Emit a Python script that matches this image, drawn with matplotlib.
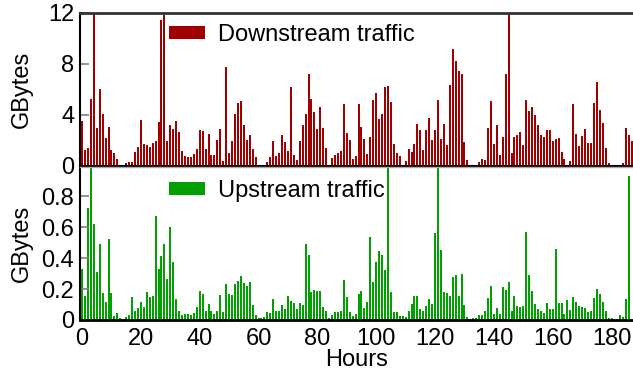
import matplotlib
matplotlib.use("Agg")
import matplotlib.pyplot as plt

hours = list(range(188))

downstream = [
    3.52, 1.25, 1.41, 5.24, 13.5, 2.97, 6.03, 4.07, 2.19, 3.05,
    1.25, 1.02, 0.55, 0.10, 0.00, 0.23, 0.31, 0.31, 1.10, 1.49,
    3.60, 1.72, 1.64, 1.49, 1.80, 1.96, 3.44, 11.43, 11.82, 1.96,
    3.21, 2.90, 3.52, 2.66, 1.17, 0.78, 0.70, 0.70, 0.94, 1.33,
    2.82, 2.74, 1.33, 2.50, 0.86, 0.86, 2.03, 2.90, 0.39, 7.75,
    1.02, 1.96, 4.07, 4.93, 5.09, 3.21, 2.03, 2.43, 1.33, 0.70,
    0.08, 0.08, 0.08, 0.31, 0.70, 1.96, 0.78, 1.02, 2.43, 1.88,
    1.17, 6.18, 0.86, 0.47, 1.96, 3.21, 4.07, 7.20, 5.24, 4.23,
    2.90, 4.62, 2.97, 1.41, 0.08, 0.63, 0.86, 1.02, 1.17, 4.85,
    2.58, 2.03, 0.55, 0.82, 4.85, 3.05, 2.11, 0.94, 2.27, 5.17,
    5.71, 3.68, 4.07, 6.18, 6.26, 5.01, 1.72, 1.02, 0.78, 0.08,
    0.39, 1.33, 1.10, 1.72, 3.29, 2.82, 1.25, 2.82, 3.76, 2.03,
    2.82, 5.17, 2.11, 3.29, 1.64, 6.34, 9.16, 8.22, 7.44, 7.20,
    1.88, 0.47, 0.00, 0.00, 0.08, 0.31, 0.55, 0.47, 2.97, 5.09,
    1.72, 3.21, 0.86, 2.27, 7.20, 12.8, 1.02, 2.27, 2.43, 2.66,
    1.64, 5.17, 4.30, 4.62, 3.99, 3.21, 2.43, 2.27, 2.82, 2.82,
    1.96, 2.11, 2.19, 1.10, 0.55, 0.00, 0.39, 4.85, 2.50, 1.57,
    2.35, 2.90, 1.80, 1.80, 4.93, 6.57, 4.38, 3.37, 1.41, 0.23,
    0.00, 0.00, 0.00, 0.00, 0.23, 2.97, 2.43, 1.96,
]

upstream = [
    0.329, 0.155, 0.723, 1.100, 0.619, 0.310, 0.490, 0.174, 0.116, 0.523,
    0.174, 0.026, 0.045, 0.013, 0.006, 0.019, 0.032, 0.148, 0.058, 0.077,
    0.116, 0.084, 0.181, 0.148, 0.155, 0.671, 0.329, 0.413, 0.490, 0.265,
    0.600, 0.374, 0.135, 0.058, 0.032, 0.039, 0.039, 0.032, 0.045, 0.084,
    0.187, 0.168, 0.058, 0.103, 0.058, 0.039, 0.058, 0.161, 0.052, 0.232,
    0.168, 0.161, 0.232, 0.252, 0.284, 0.239, 0.219, 0.245, 0.100, 0.032,
    0.013, 0.016, 0.019, 0.052, 0.045, 0.135, 0.058, 0.058, 0.097, 0.071,
    0.155, 0.123, 0.110, 0.071, 0.110, 0.097, 0.490, 0.419, 0.181, 0.194,
    0.187, 0.187, 0.084, 0.058, 0.013, 0.032, 0.052, 0.052, 0.058, 0.258,
    0.148, 0.052, 0.026, 0.039, 0.168, 0.187, 0.077, 0.116, 0.535, 0.245,
    0.374, 0.445, 0.419, 0.323, 1.200, 0.181, 0.052, 0.052, 0.026, 0.026,
    0.019, 0.058, 0.103, 0.155, 0.155, 0.071, 0.058, 0.090, 0.135, 0.103,
    0.561, 1.100, 0.452, 0.181, 0.174, 0.155, 0.277, 0.290, 0.155, 0.297,
    0.097, 0.019, 0.006, 0.013, 0.013, 0.032, 0.032, 0.058, 0.142, 0.219,
    0.039, 0.077, 0.039, 0.213, 0.194, 0.245, 0.058, 0.155, 0.090, 0.084,
    0.090, 0.568, 0.290, 0.187, 0.103, 0.071, 0.058, 0.045, 0.110, 0.071,
    0.071, 0.458, 0.110, 0.110, 0.039, 0.129, 0.065, 0.148, 0.116, 0.090,
    0.084, 0.077, 0.052, 0.058, 0.142, 0.200, 0.168, 0.116, 0.058, 0.013,
    0.013, 0.006, 0.006, 0.032, 0.019, 0.135, 0.929, 0.000,
]

series_labels = ["Downstream traffic", "Upstream traffic"]
down_ticks = [0, 4, 8, 12]
up_ticks = [0, 0.2, 0.4, 0.6, 0.8]
x_ticks = [0, 20, 40, 60, 80, 100, 120, 140, 160, 180]
y_label = "GBytes"
x_label = "Hours"

plt.rcParams['font.family'] = ['Liberation Sans', 'DejaVu Sans']
FS = 17

W, H = 633, 377
fig = plt.figure(figsize=(W / 100, H / 100), dpi=100)
left = 79.7 / W
width = 1.0 - left
ax1 = fig.add_axes([left, (H - 166.0) / H, width, (166.0 - 12.7) / H])
ax2 = fig.add_axes([left, (H - 320.0) / H, width, (320.0 - 166.7) / H])

red = '#a00000'
green = '#00a000'
ax1.bar(hours, downstream, width=0.68, color=red, linewidth=0, label=series_labels[0])
ax2.bar(hours, upstream, width=0.68, color=green, linewidth=0, label=series_labels[1])

xlim = (-0.8, 187.3)
ax1.set_xlim(*xlim)
ax2.set_xlim(*xlim)
ax1.set_ylim(0, 12)
ax2.set_ylim(0, 0.99)

ax1.set_yticks(down_ticks)
ax1.set_yticklabels([str(t) for t in down_ticks])
ax2.set_yticks(up_ticks)
ax2.set_yticklabels(["0", "0.2", "0.4", "0.6", "0.8"])
ax1.set_xticks([])
ax2.set_xticks(x_ticks)
ax2.set_xticklabels([str(t) for t in x_ticks])

for ax in (ax1, ax2):
    ax.tick_params(axis='y', direction='in', length=6.7, width=1.2, color='#808080',
                   labelsize=FS, pad=4)
    ax.tick_params(axis='x', length=0, labelsize=FS, pad=6)
    ax.spines['right'].set_visible(False)
    ax.spines['left'].set_color('black')
    ax.spines['left'].set_linewidth(1.5)
    ax.set_ylabel(y_label, fontsize=FS)
    ax.yaxis.set_label_coords(-0.085, 0.5)

ax1.spines['top'].set_color('#333333')
ax1.spines['top'].set_linewidth(2.0)
ax1.spines['bottom'].set_color('black')
ax1.spines['bottom'].set_linewidth(1.5)
ax2.spines['top'].set_color('#aaaaaa')
ax2.spines['top'].set_linewidth(1.0)
ax2.spines['bottom'].set_color('black')
ax2.spines['bottom'].set_linewidth(2.0)

ax2.set_xlabel(x_label, fontsize=FS, labelpad=-1)

leg_kw = dict(loc='upper left', frameon=False, fontsize=FS, handlelength=1.53,
              handleheight=0.5, handletextpad=0.55, borderpad=0, borderaxespad=0)
ax1.legend(bbox_to_anchor=((169 - 79.7) / 553.3, 1 - (24 - 12.7) / 153.3), **leg_kw)
ax2.legend(bbox_to_anchor=((169 - 79.7) / 553.3, 1 - (180 - 166.7) / 153.3), **leg_kw)

fig.savefig('out.png', dpi=100)
